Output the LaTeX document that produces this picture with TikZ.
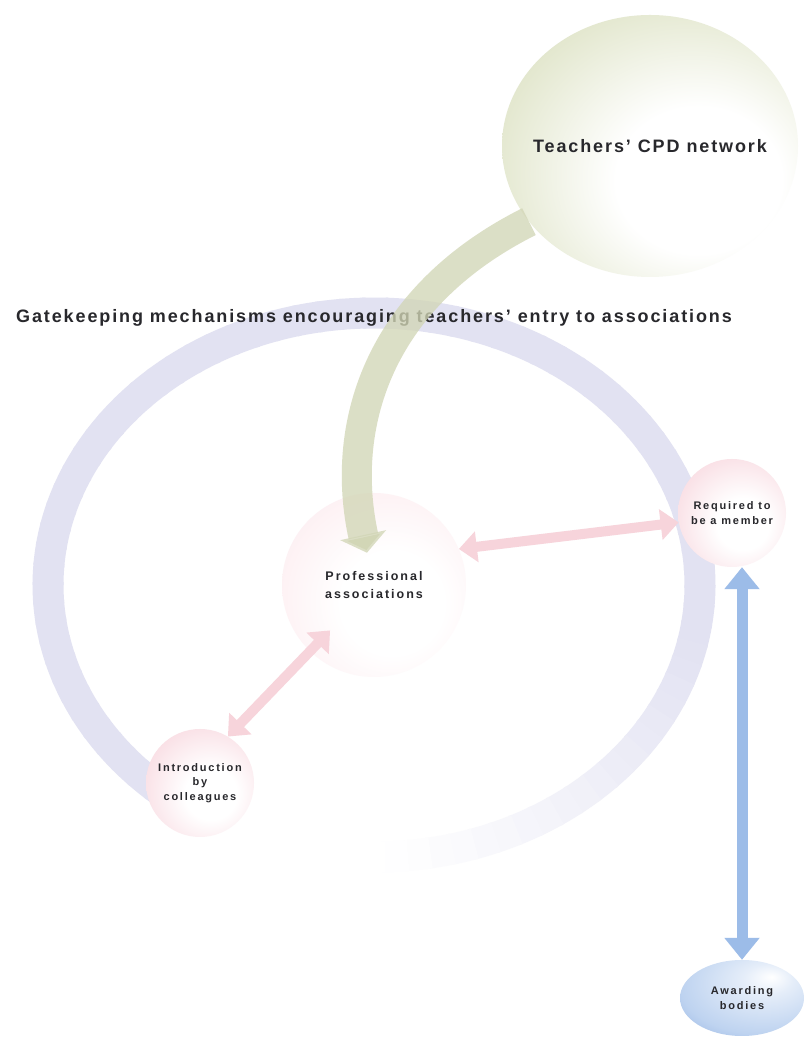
\documentclass[tikz,border=0pt]{standalone}
\usepackage{fontspec}
\setmainfont{Liberation Sans}
\newfontfamily\titlefont[LetterSpace=10.5]{Liberation Sans}
\newfontfamily\labelfont[LetterSpace=16]{Liberation Sans}
\usepackage{tikz}
\usetikzlibrary{shapes}
\usetikzlibrary{calc}
\usetikzlibrary{arrows.meta}
\definecolor{cpdedge}{RGB}{196,203,160}
\definecolor{cpdmid}{RGB}{228,232,208}
\definecolor{pinkedge}{RGB}{243,194,205}
\definecolor{pinkmid}{RGB}{249,222,228}
\definecolor{profedge}{RGB}{250,220,226}
\definecolor{profmid}{RGB}{253,238,241}
\definecolor{blueedge}{RGB}{112,152,216}
\definecolor{bluemid}{RGB}{190,211,240}
\definecolor{ringcol}{RGB}{226,226,242}
\definecolor{greenband}{RGB}{210,214,182}
\definecolor{pinkband}{RGB}{247,212,219}
\definecolor{blueband}{RGB}{156,188,232}
\definecolor{inktext}{RGB}{40,40,44}
\pgfdeclareradialshading{cpdshade}{\pgfpoint{10bp}{-8bp}}{color(0bp)=(white); color(14bp)=(white); color(32bp)=(cpdmid); color(52bp)=(cpdedge); color(80bp)=(cpdedge)}
\pgfdeclareradialshading{pinkshade}{\pgfpoint{6bp}{-6bp}}{color(0bp)=(white); color(12bp)=(white); color(32bp)=(pinkmid); color(52bp)=(pinkedge); color(80bp)=(pinkedge)}
\pgfdeclareradialshading{profshade}{\pgfpoint{6bp}{-6bp}}{color(0bp)=(white); color(14bp)=(white); color(34bp)=(profmid); color(52bp)=(profedge); color(80bp)=(profedge)}
\pgfdeclareradialshading{blueshade}{\pgfpoint{12bp}{14bp}}{color(0bp)=(white); color(10bp)=(white!60!bluemid); color(32bp)=(bluemid); color(56bp)=(blueedge); color(80bp)=(blueedge)}
\tikzstyle{cpdball}=[ellipse,shading=cpdshade,minimum width=296pt,minimum height=262pt,inner xsep=-40pt,inner ysep=0pt,text=inktext,font=\titlefont\bfseries\fontsize{18}{22}\selectfont]
\tikzstyle{pinkball}=[circle,shading=pinkshade,minimum size=108pt,inner sep=0pt,align=center,text=inktext,font=\labelfont\bfseries\fontsize{11}{14.5}\selectfont]
\tikzstyle{profball}=[circle,shading=profshade,minimum size=184pt,inner sep=0pt,align=center,text=inktext,font=\labelfont\bfseries\fontsize{12.5}{18}\selectfont]
\tikzstyle{blueball}=[ellipse,shading=blueshade,minimum width=124pt,minimum height=76pt,inner sep=0pt,align=center,text=inktext,font=\labelfont\bfseries\fontsize{11}{14.5}\selectfont]
\tikzstyle{heading}=[text=inktext,font=\titlefont\bfseries\fontsize{18}{22}\selectfont]
\tikzstyle{ring}=[line width=31pt,draw=ringcol]
\tikzstyle{greenarrow}=[draw=greenband,draw opacity=.78,line width=30pt,-{Triangle[width=46pt,length=18pt]},shorten >=33pt]
\tikzstyle{pinkarrow}=[draw=pinkband,line width=10pt,{Triangle[width=30pt,length=18pt]}-{Triangle[width=30pt,length=18pt]}]
\tikzstyle{bluearrow}=[draw=blueband,line width=11pt,{Triangle[width=34pt,length=22pt]}-{Triangle[width=34pt,length=22pt]}]

\begin{document}
\begin{tikzpicture}[x=1pt,y=1pt]
    \fill[white] (0,0) rectangle (805,1039);
    \coordinate (hub) at (374,454);

    % the open ring, fading out at the bottom
    \foreach \a in {236,232,...,-88} {
        \pgfmathsetmacro{\fade}{min(100,max(0,(\a+86)/0.76))}
        \draw[ring, draw=ringcol!\fade!white] ($(hub)+(\a:326 and 272)$) arc[start angle=\a, delta angle=-4.6, x radius=326, y radius=272];
    }

    % the balls
    \node[profball] (prof) at (hub) {Professional\\associations};
    \foreach \pos/\name/\label in {{(732,526)/req/Required to\\be a member}, {(200,256)/intro/Introduction\\by\\colleagues}}
        \node[pinkball] (\name) at \pos {\label};
    \node[blueball] (award) at (742,41) {Awarding\\bodies};
    \node[cpdball] (cpd) at (650,893) {Teachers’ CPD network};

    \node[heading] (title) at (374,721) {Gatekeeping mechanisms encouraging teachers’ entry to associations};

    % links between the balls
    \foreach \source/\dest/\cut in {prof.23/req.190/0, prof.226/intro.59/-29}
        \draw[pinkarrow, shorten <=\cut pt] (\source) -- (\dest);
    \draw[bluearrow] (award.north |- req.south) -- (award.north);
    \draw[greenarrow] (cpd.212) .. controls (375,740) and (340,610) .. (prof.center);
\end{tikzpicture}
\end{document}
